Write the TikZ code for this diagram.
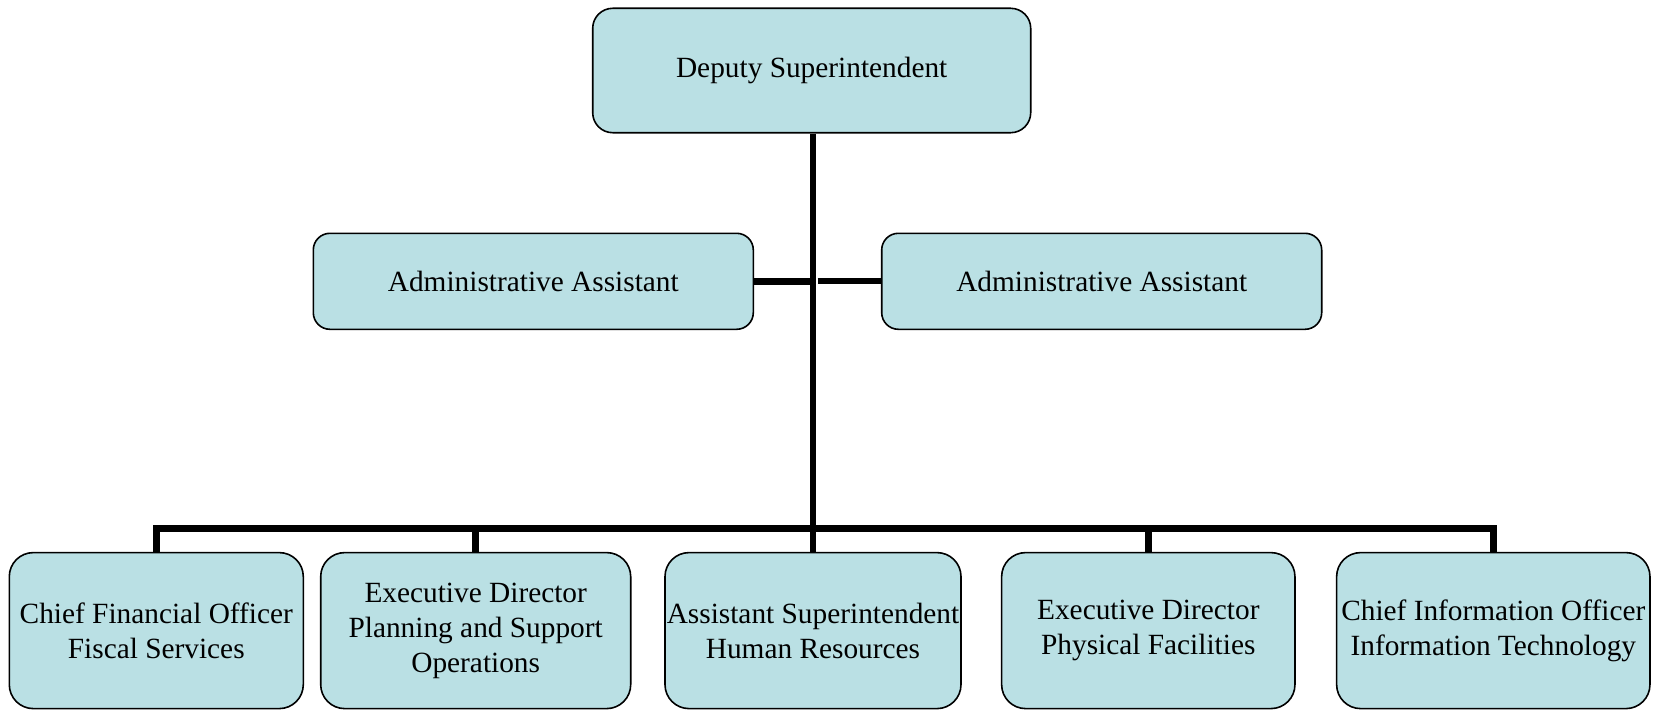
\documentclass[tikz,border=0pt]{standalone}
\usepackage{fontspec}
\setmainfont{Liberation Serif}
\definecolor{boxfill}{RGB}{186,224,228}
\begin{document}
\begin{tikzpicture}[x=0.75pt,y=-0.75pt,
  orgbox/.style={draw=black, line width=1.2pt, fill=boxfill, rectangle,
    inner sep=0pt, align=center, font=\fontsize{22}{26.3}\selectfont},
  topbox/.style={orgbox, rounded corners=15pt, minimum width=328.5pt, minimum height=93.3pt},
  adminbox/.style={orgbox, rounded corners=12.5pt, minimum width=330pt, minimum height=72pt},
  lowbox/.style={orgbox, rounded corners=18pt, minimum height=117pt},
  conn/.style={line width=5pt, line join=miter}]
\useasboundingbox (0,0) rectangle (1664,710);
\node[topbox] (top) at (811.7,70.5) {Deputy Superintendent};
\node[adminbox] (al) at (533.3,281.3) {Administrative Assistant};
\node[adminbox] (ar) at (1101.7,281.3) {Administrative Assistant};
\node[lowbox, minimum width=220.5pt] (b1) at (156.3,630.6) {Chief Financial Officer\\Fiscal Services};
\node[lowbox, minimum width=232.5pt] (b2) at (475.7,630.6) {Executive Director\\Planning and Support\\Operations};
\node[lowbox, minimum width=222pt] (b3) at (813,630.6) {Assistant Superintendent\\Human Resources};
\node[lowbox, minimum width=220pt] (b4) at (1148.3,630.6) {Executive Director\\Physical Facilities};
\node[lowbox, minimum width=235pt] (b5) at (1493.3,630.6) {Chief Information Officer\\Information Technology};
\coordinate (busy) at (0,528.5);
\coordinate (armid) at (817.5,281);
\draw[conn] (top.south -| b3.north) -- (b3.north);
\draw[conn] (al.east) -- (al.east -| b3.north);
\draw[conn] (armid) -- (armid -| ar.west);
\draw[conn] (b1.north) -- (b1.north |- busy) -- (b5.north |- busy) -- (b5.north);
\draw[conn] (b2.north) -- (b2.north |- busy);
\draw[conn] (b4.north) -- (b4.north |- busy);
\end{tikzpicture}
\end{document}
